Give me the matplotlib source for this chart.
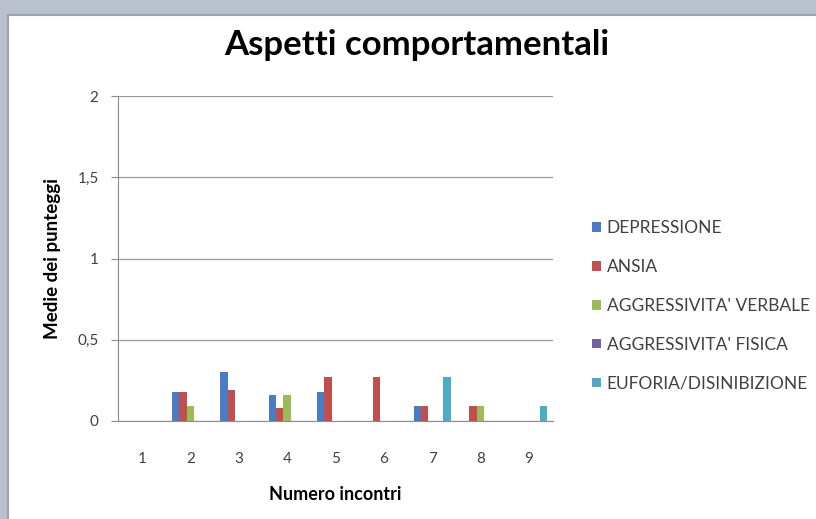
import matplotlib.pyplot as plt
import matplotlib.patches as mpatches
from matplotlib.lines import Line2D
import numpy as np

plt.rcParams['font.family'] = ['Lato', 'DejaVu Sans']

# data
incontri = ['1', '2', '3', '4', '5', '6', '7', '8', '9']
depressione = [0, 0.18, 0.30, 0.16, 0.18, 0, 0.09, 0, 0]
ansia = [0, 0.18, 0.19, 0.08, 0.27, 0.27, 0.09, 0.09, 0]
aggr_verbale = [0, 0.09, 0, 0.16, 0, 0, 0, 0.09, 0]
aggr_fisica = [0, 0, 0, 0, 0, 0, 0, 0, 0]
euforia = [0, 0, 0, 0, 0, 0, 0.27, 0, 0.09]

serie = [depressione, ansia, aggr_verbale, aggr_fisica, euforia]
nomi = ['DEPRESSIONE', 'ANSIA', "AGGRESSIVITA' VERBALE", "AGGRESSIVITA' FISICA",
        'EUFORIA/DISINIBIZIONE']
colori = ['#4a7bc4', '#c0504d', '#9bbb59', '#7160a4', '#4bacc6']

fig = plt.figure(figsize=(8.16, 5.19), dpi=100)
fig.patch.set_facecolor('#b9c1cf')

# white panel behind everything, border only on top and left
px0 = 8 / 816
py1 = 1 - 15 / 519
panel = mpatches.Rectangle((px0, 0), 1 - px0, py1, transform=fig.transFigure,
                           facecolor='white', edgecolor='none', zorder=-5)
fig.patches.append(panel)
fig.add_artist(Line2D([px0, 1], [py1, py1], transform=fig.transFigure,
                      color='#9ea3ab', linewidth=1.5, zorder=-4))
fig.add_artist(Line2D([px0, px0], [0, py1], transform=fig.transFigure,
                      color='#9ea3ab', linewidth=1.5, zorder=-4))

ax = fig.add_axes([118/816, 1 - 421/519, 435/816, 325/519])
ax.set_facecolor('none')

x = np.arange(1, len(incontri) + 1)
w = 1 / 6.5
for i, (vals, nome, col) in enumerate(zip(serie, nomi, colori)):
    ax.bar(x + (i - 2) * w, vals, width=w, color=col, label=nome, zorder=3)

ax.set_xlim(0.5, 9.5)
ax.set_ylim(0, 2)
ax.set_yticks([0, 0.5, 1, 1.5, 2])
ax.set_yticklabels(['0', '0,5', '1', '1,5', '2'])
ax.set_xticks(x)
ax.set_xticklabels(incontri)
ax.yaxis.grid(True, color='#9a9a9a', linewidth=0.9)
ax.set_axisbelow(True)

for s in ['top', 'right']:
    ax.spines[s].set_visible(False)
ax.spines['left'].set_color('#8c8c8c')
ax.spines['bottom'].set_color('#8c8c8c')
ax.tick_params(axis='y', length=5, color='#8c8c8c', labelsize=11, labelcolor='#404040', pad=9)
ax.tick_params(axis='x', length=0, labelsize=11, labelcolor='#404040', pad=22)

fig.text(417/816, 1 - 45/519, 'Aspetti comportamentali', ha='center', va='center',
         fontsize=25, fontweight='bold', color='black')
ax.set_xlabel('Numero incontri', fontsize=13, fontweight='bold', labelpad=15)
ax.set_ylabel('Medie dei punteggi', fontsize=13.5, fontweight='bold', labelpad=12)

leg = ax.legend(loc='upper left', bbox_to_anchor=(585/816, 1 - 213/519),
                bbox_transform=fig.transFigure, frameon=False, fontsize=12.5,
                handlelength=0.5, handleheight=0.5, handletextpad=0.35,
                labelspacing=1.32, borderaxespad=0)
for t in leg.get_texts():
    t.set_color('#404040')

fig.savefig('out.png', dpi=100, facecolor=fig.get_facecolor())
